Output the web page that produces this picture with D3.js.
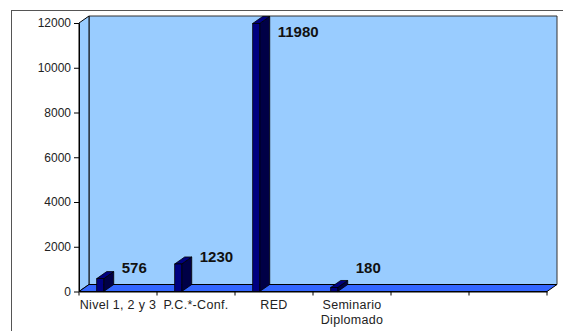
<!DOCTYPE html>
<html>
<head>
<meta charset="utf-8">
<script src="https://cdn.jsdelivr.net/npm/d3@7"></script>
<style>
  body { margin: 0; background: #fff; }
  text { font-family: Arial, "Liberation Sans", sans-serif; }
</style>
</head>
<body>
<div id="chart"></div>
<script>
// Data
var categories = ['Nivel 1, 2 y 3', 'P.C.*-Conf.', 'RED', 'Seminario\nDiplomado', '', ''];
var values     = [576, 1230, 11980, 180];
var y_ticks    = [0, 2000, 4000, 6000, 8000, 10000, 12000];

var chart_width  = 563;
var chart_height = 331;

// 3d depth offset
var dx = 10, dy = -7;

var svg = d3.select('#chart')
    .append('svg')
    .attr('width', chart_width)
    .attr('height', chart_height);

// outer frame
svg.append('rect')
    .attr('x', 11.5)
    .attr('y', 10.5)
    .attr('width', 600)
    .attr('height', 400)
    .attr('fill', '#fff')
    .attr('stroke', '#555')
    .attr('stroke-width', 1);

var x = d3.scaleBand()
    .domain(d3.range(categories.length))
    .range([79, 547]);

var y = d3.scaleLinear()
    .domain([0, 12000])
    .range([291.5, 23]);

var x0 = x.range()[0], x1 = x.range()[1];
var y0 = y(0), yTop = y(12000);

function poly(pts) {
    return 'M' + pts.map(function(p){ return p.join(','); }).join('L') + 'Z';
}

// back wall
svg.append('path')
    .attr('d', poly([[x0 + dx, yTop + dy], [x1 + dx, yTop + dy], [x1 + dx, y0 + dy], [x0 + dx, y0 + dy]]))
    .attr('fill', '#99ccff')
    .attr('stroke', '#333')
    .attr('stroke-width', 1);

// left wall
svg.append('path')
    .attr('d', poly([[x0, yTop], [x0 + dx, yTop + dy], [x0 + dx, y0 + dy], [x0, y0]]))
    .attr('fill', '#99ccff')
    .attr('stroke', '#000')
    .attr('stroke-width', 1);

// floor
svg.append('path')
    .attr('d', poly([[x0, y0], [x1, y0], [x1 + dx, y0 + dy], [x0 + dx, y0 + dy]]))
    .attr('fill', '#3366ff')
    .attr('stroke', '#000')
    .attr('stroke-width', 1);

// bars
var bar_w = x.bandwidth() * 0.09;
var bar_off = x.bandwidth() * 0.227;

var bars = svg.selectAll('g.bar')
    .data(values)
    .enter()
    .append('g')
    .attr('class', 'bar');

bars.append('path') // side
    .attr('d', function(d, i){
        var bx = x(i) + bar_off + bar_w;
        return poly([[bx, y(d)], [bx + dx, y(d) + dy], [bx + dx, y0 + dy], [bx, y0]]);
    })
    .attr('fill', '#000046')
    .attr('stroke', '#000')
    .attr('stroke-width', 0.8);

bars.append('path') // top
    .attr('d', function(d, i){
        var bx = x(i) + bar_off;
        return poly([[bx, y(d)], [bx + bar_w, y(d)], [bx + bar_w + dx, y(d) + dy], [bx + dx, y(d) + dy]]);
    })
    .attr('fill', '#000080')
    .attr('stroke', '#000')
    .attr('stroke-width', 0.8);

bars.append('rect') // front
    .attr('x', function(d, i){ return x(i) + bar_off; })
    .attr('y', function(d){ return y(d); })
    .attr('width', bar_w)
    .attr('height', function(d){ return y0 - y(d); })
    .attr('fill', '#000080')
    .attr('stroke', '#000')
    .attr('stroke-width', 0.8);

// value labels
bars.append('text')
    .attr('x', function(d, i){ return x(i) + bar_off + bar_w + dx + 8; })
    .attr('y', function(d){ return Math.max(37, Math.min(273, y(d) - 2)); })
    .attr('font-size', '15px')
    .attr('font-weight', 'bold')
    .attr('fill', '#111')
    .text(function(d){ return d; });

// y axis
var y_axis = svg.append('g')
    .attr('transform', 'translate(' + x0 + ',0)')
    .call(d3.axisLeft(y).tickValues(y_ticks).tickFormat(d3.format('d'))
        .tickSize(5).tickPadding(3).tickSizeOuter(0));
y_axis.select('.domain').attr('stroke', '#000');
y_axis.selectAll('text')
    .attr('font-size', '12px')
    .attr('fill', '#222')
    .style('font-family', 'Arial, "Liberation Sans", sans-serif');

// x axis
var x_axis = svg.append('g')
    .attr('transform', 'translate(0,' + y0 + ')')
    .call(d3.axisBottom(x).tickValues([]).tickSizeOuter(0));
x_axis.select('.domain').attr('stroke', '#000');

// category boundary ticks
x_axis.selectAll('line.btick')
    .data(d3.range(categories.length + 1))
    .enter()
    .append('line')
    .attr('class', 'btick')
    .attr('x1', function(i){ return x0 + i * x.step(); })
    .attr('x2', function(i){ return x0 + i * x.step(); })
    .attr('y1', 0)
    .attr('y2', 4)
    .attr('stroke', '#000');

var cat_labels = x_axis.selectAll('text.cat')
    .data(categories)
    .enter()
    .append('text')
    .attr('class', 'cat')
    .attr('text-anchor', 'middle')
    .attr('font-size', '12.5px')
    .attr('letter-spacing', '0.3px')
    .attr('fill', '#222')
    .attr('y', 17);

cat_labels.each(function(d, i){
    var lines = d.split('\n');
    var t = d3.select(this);
    lines.forEach(function(l, j){
        t.append('tspan')
            .attr('x', x(i) + x.bandwidth() / 2)
            .attr('dy', j === 0 ? 0 : 15)
            .text(l);
    });
});
</script>
</body>
</html>
